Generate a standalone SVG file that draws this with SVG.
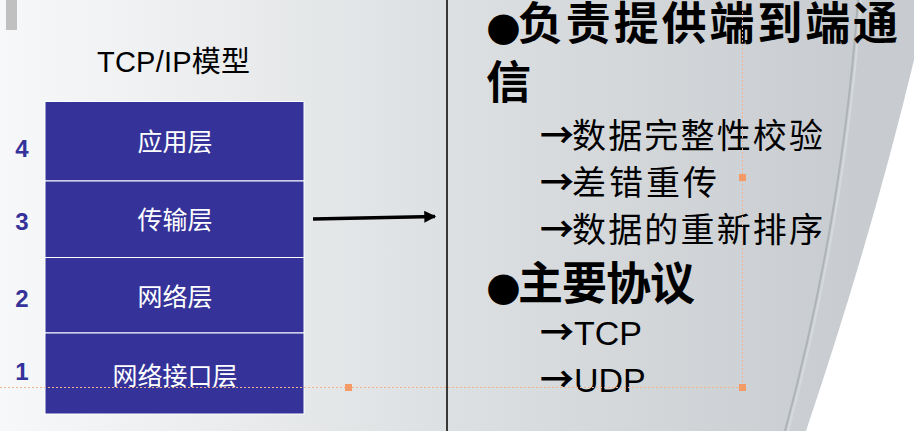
<svg xmlns="http://www.w3.org/2000/svg" width="914" height="431" viewBox="0 0 914 431">
<style>
.num{font-family:"Liberation Sans",Arial,sans-serif;font-weight:bold;font-size:24px;fill:#353399;text-anchor:middle}
.lay{font-family:"Noto Sans CJK SC",sans-serif;font-size:25px;fill:#ffffff;text-anchor:middle}
.hd{font-family:"Noto Sans CJK SC",sans-serif;font-weight:bold;font-size:45px;fill:#000}
.sub{font-family:"Liberation Sans","Noto Sans CJK SC",sans-serif;font-size:34px;fill:#000}
.ar{font-family:"Noto Sans CJK SC",sans-serif;font-weight:bold;font-size:34px}
.bl{font-family:"DejaVu Sans",sans-serif;font-size:40px;font-weight:normal}
.guide{stroke:#f2b48e;stroke-width:1;stroke-dasharray:2 2;fill:none}
.hnd{fill:#f39a66}
</style>
<defs>
<linearGradient id="bg" x1="0" y1="0" x2="860" y2="0" gradientUnits="userSpaceOnUse">
<stop offset="0" stop-color="#f7f8f9"/>
<stop offset="0.52" stop-color="#dde0e2"/>
<stop offset="1" stop-color="#c8ccd0"/>
</linearGradient>
<marker id="ah" viewBox="0 0 10 10" refX="9" refY="5" markerWidth="4" markerHeight="3.4" orient="auto" markerUnits="strokeWidth">
<path d="M0,0 L10,5 L0,10 z" fill="#000"/>
</marker>
</defs>
<rect x="0" y="0" width="914" height="431" fill="url(#bg)"/>
<path d="M914,60 Q872,235 806,431 L914,431 Z" fill="#ffffff"/>
<path d="M858,0 Q842,220 785,431" fill="none" stroke="#aeb3b7" stroke-width="2"/>
<path d="M861,0 Q845,220 788,431" fill="none" stroke="#d6d9dc" stroke-width="2"/>
<rect x="6" y="0" width="11" height="30" fill="#c0c0c0"/>
<line x1="447" y1="0" x2="447" y2="431" stroke="#000" stroke-width="1.5"/>

<g id="title">
<text x="97" y="72" font-family="Liberation Sans,Noto Sans CJK SC,sans-serif" font-size="29" fill="#000" textLength="153">TCP/IP模型</text>
</g>

<g id="layer4">
<rect x="45" y="101.5" width="259" height="79.5" fill="#353399" stroke="#fff" stroke-width="1"/>
<text class="lay" x="175" y="151">应用层</text>
<text class="num" x="22" y="157">4</text>
</g>
<g id="layer3">
<rect x="45" y="181" width="259" height="76.5" fill="#353399" stroke="#fff" stroke-width="1"/>
<text class="lay" x="175" y="229">传输层</text>
<text class="num" x="22" y="230">3</text>
</g>
<g id="layer2">
<rect x="45" y="257.5" width="259" height="75.5" fill="#353399" stroke="#fff" stroke-width="1"/>
<text class="lay" x="175" y="306">网络层</text>
<text class="num" x="22" y="307">2</text>
</g>
<g id="layer1">
<rect x="45" y="333" width="259" height="81" fill="#353399" stroke="#fff" stroke-width="1"/>
<text class="lay" x="175" y="385">网络接口层</text>
<text class="num" x="22" y="380">1</text>
</g>

<g id="connectors">
<line x1="313" y1="219" x2="435" y2="216.5" stroke="#000" stroke-width="3.5" marker-end="url(#ah)"/>
</g>

<g id="bullets">
<text class="hd" x="486" y="40"><tspan class="bl">●</tspan><tspan x="518" textLength="380">负责提供端到端通</tspan></text>
<text class="hd" x="486" y="99">信</text>
<text class="sub" x="540" y="148"><tspan class="ar">→</tspan><tspan x="572" textLength="251">数据完整性校验</tspan></text>
<text class="sub" x="540" y="195"><tspan class="ar">→</tspan><tspan x="572" textLength="145">差错重传</tspan></text>
<text class="sub" x="540" y="242"><tspan class="ar">→</tspan><tspan x="572" textLength="251">数据的重新排序</tspan></text>
<text class="hd" x="486" y="300"><tspan class="bl">●</tspan><tspan x="518" textLength="177">主要协议</tspan></text>
<text class="sub" x="540" y="345"><tspan class="ar">→</tspan><tspan x="574">TCP</tspan></text>
<text class="sub" x="540" y="392"><tspan class="ar">→</tspan><tspan x="574">UDP</tspan></text>
</g>

<g id="guides">
<line class="guide" x1="0" y1="387.5" x2="742" y2="387.5"/>
<line class="guide" x1="742.5" y1="0" x2="742.5" y2="387"/>
<rect class="hnd" x="345" y="384" width="7" height="7"/>
<rect class="hnd" x="739" y="174" width="7" height="7"/>
<rect class="hnd" x="739" y="384" width="7" height="7"/>
</g>
</svg>
